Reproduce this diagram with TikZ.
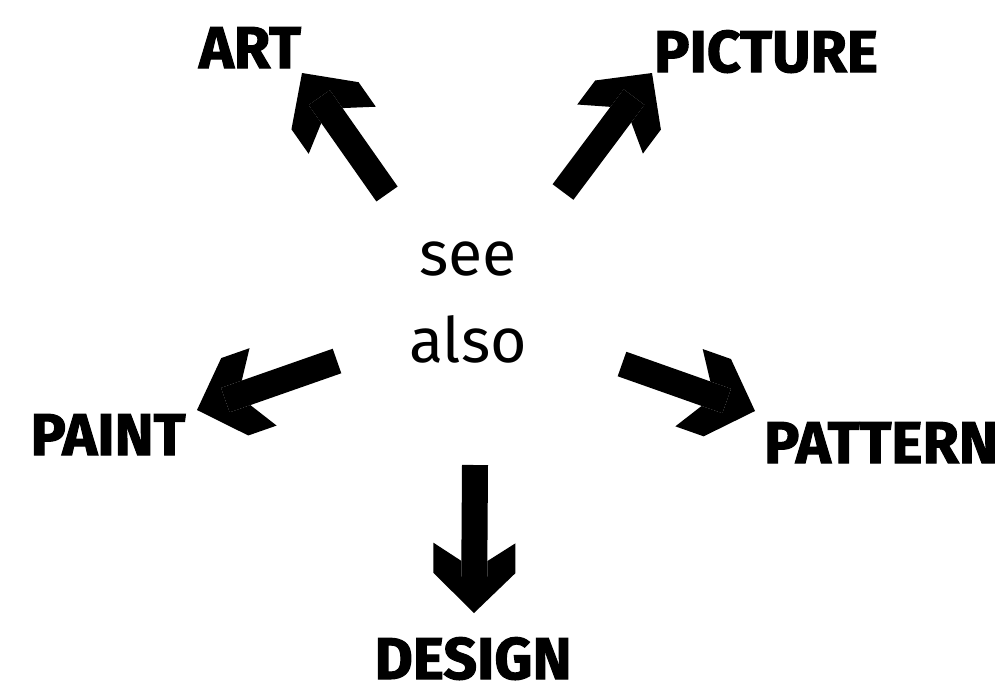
\documentclass[tikz,border=0pt]{standalone}
\usepackage{fontspec}
\setmainfont{Fira Sans}
\pgfdeclarearrow{
  name = Chunky,
  setup code = {
    \pgfarrowssettipend{0pt}
    \pgfarrowssetlineend{-15pt}
    \pgfarrowssetbackend{-35pt}
    \pgfarrowshullpoint{0pt}{0pt}
    \pgfarrowsupperhullpoint{-35pt}{20.5pt}
  },
  drawing code = {
    \pgfpathmoveto{\pgfqpoint{0pt}{0pt}}
    \pgfpathlineto{\pgfqpoint{-20pt}{20.5pt}}
    \pgfpathlineto{\pgfqpoint{-35pt}{20.5pt}}
    \pgfpathlineto{\pgfqpoint{-26pt}{6.5pt}}
    \pgfpathlineto{\pgfqpoint{-15pt}{6.5pt}}
    \pgfpathlineto{\pgfqpoint{-15pt}{-6.5pt}}
    \pgfpathlineto{\pgfqpoint{-26pt}{-6.5pt}}
    \pgfpathlineto{\pgfqpoint{-35pt}{-20.5pt}}
    \pgfpathlineto{\pgfqpoint{-20pt}{-20.5pt}}
    \pgfpathclose
    \pgfusepathqfill
  }
}
\tikzset{
  bigarrow/.style={line width=13pt, line cap=butt, -Chunky},
  word/.style={inner sep=0pt, anchor=base, font=\fontsize{29.5pt}{30pt}\selectfont\bfseries\addfontfeatures{FakeBold=1.8}},
  centre/.style={inner sep=0pt, align=center, font=\fontsize{31.3pt}{43.5pt}\selectfont}
}
\begin{document}
\begin{tikzpicture}[x=0.5pt, y=-0.5pt]
\useasboundingbox (0,0) rectangle (1007,692);
\node[centre] (c) at (468,302) {see\\also};
\node[word] (art) at (250,68) {ART};
\node[word] (picture) at (766,72) {PICTURE};
\node[word] (paint) at (108,455) {PAINT};
\node[word] (pattern) at (881,463) {PATTERN};
\node[word] (design) at (473,679) {DESIGN};
\coordinate (artS) at (387,194);
\coordinate (artE) at (302,73);
\coordinate (picS) at (563,192);
\coordinate (picE) at (652,73);
\coordinate (paintS) at (337,361);
\coordinate (paintE) at (197,410);
\coordinate (patS) at (622,364);
\coordinate (patE) at (755,411);
\coordinate (desS) at (475,465);
\coordinate (desE) at (474,613);
\draw[bigarrow] (artS) -- (artE);
\draw[bigarrow] (picS) -- (picE);
\draw[bigarrow] (paintS) -- (paintE);
\draw[bigarrow] (patS) -- (patE);
\draw[bigarrow] (desS) -- (desE);
\end{tikzpicture}
\end{document}
